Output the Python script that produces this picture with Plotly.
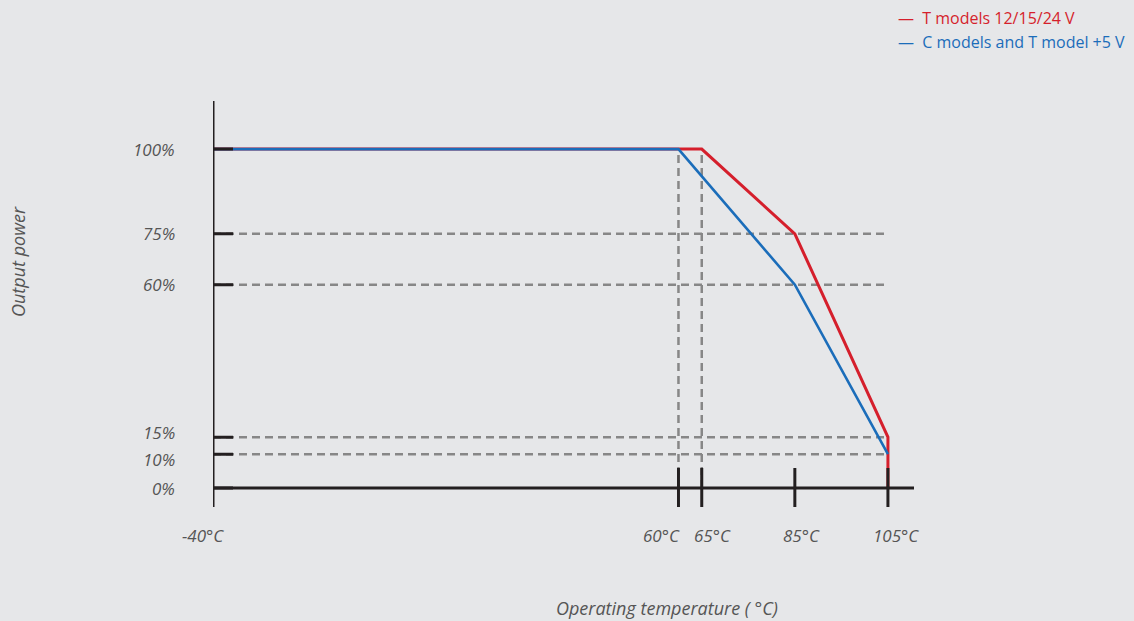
import plotly.graph_objects as go

# ---- data ----
x_tick_vals = [-40, 60, 65, 85, 105]
x_tick_text = ["-40°C", "60°C", "65°C", "85°C", "105°C"]
y_tick_vals = [0, 10, 15, 60, 75, 100]
y_tick_text = ["0%", "10%", "15%", "60%", "75%", "100%"]

t_models_temp = [-40, 60, 65, 85, 105, 105]
t_models_power = [100, 100, 100, 75, 15, 0]
c_models_temp = [-40, 60, 85, 105]
c_models_power = [100, 100, 60, 10]

ref_levels = [75, 60, 15, 10]
ref_temps = [60, 65]

series_names = ["T models 12/15/24 V", "C models and T model +5 V"]

RED = "#d51f2c"
BLUE = "#1b6dba"
GRAY = "#878787"
BLACK = "#231f20"
BG = "#e6e7e9"
TXT = "#555555"
FONT = "Open Sans"

X_MIN, X_MAX = -40, 110.6
Y_MIN, Y_MAX = -5.6, 114.2

fig = go.Figure()

fig.add_trace(go.Scatter(x=t_models_temp, y=t_models_power, mode="lines",
                         name=series_names[0], line=dict(color=RED, width=3),
                         showlegend=False))
fig.add_trace(go.Scatter(x=c_models_temp, y=c_models_power, mode="lines",
                         name=series_names[1], line=dict(color=BLUE, width=2.6),
                         showlegend=False))

shapes = []
for lv in ref_levels:
    shapes.append(dict(type="line", xref="x", yref="y", x0=x_tick_vals[0], x1=x_tick_vals[-1],
                       y0=lv, y1=lv, layer="below",
                       line=dict(color=GRAY, width=2.5, dash="8px,5px")))
for tv in ref_temps:
    shapes.append(dict(type="line", xref="x", yref="y", x0=tv, x1=tv,
                       y0=y_tick_vals[0], y1=y_tick_vals[-1], layer="below",
                       line=dict(color=GRAY, width=2.5, dash="8px,5px")))
shapes.append(dict(type="line", xref="x", yref="y", x0=X_MIN, x1=X_MAX, y0=0, y1=0,
                   layer="above", line=dict(color=BLACK, width=3)))
shapes.append(dict(type="line", xref="x", yref="y", x0=X_MIN, x1=X_MIN, y0=Y_MIN, y1=Y_MAX,
                   layer="above", line=dict(color=BLACK, width=3)))
for yv in y_tick_vals:
    shapes.append(dict(type="line", xref="x", yref="y", xsizemode="pixel", xanchor=x_tick_vals[0],
                       x0=-20, x1=20, y0=yv, y1=yv, layer="above",
                       line=dict(color=BLACK, width=3)))
for xv in x_tick_vals[1:]:
    shapes.append(dict(type="line", xref="x", yref="y", ysizemode="pixel", yanchor=0,
                       y0=-20, y1=20, x0=xv, x1=xv, layer="above",
                       line=dict(color=BLACK, width=3)))

tick_font = dict(family=FONT, size=17, color=TXT, style="italic")
annotations = []
y_shift = {10: -5, 15: 5}
for v, t in zip(y_tick_vals, y_tick_text):
    annotations.append(dict(text=t, xref="x", yref="y", x=x_tick_vals[0], y=v,
                            xanchor="right", yanchor="middle", xshift=-36,
                            yshift=y_shift.get(v, 0), showarrow=False, font=tick_font))
x_anchor = {-40: ("center", -10), 60: ("right", 4), 65: ("left", -10),
            85: ("center", 7), 105: ("center", 8)}
for v, t in zip(x_tick_vals, x_tick_text):
    anc, sh = x_anchor[v]
    annotations.append(dict(text=t, xref="x", yref="y", x=v, y=0,
                            xanchor=anc, yanchor="middle", xshift=sh, yshift=-47,
                            showarrow=False, font=tick_font))

plot_l, plot_r, plot_t, plot_b = 213, 914, 101, 507
pw, ph = plot_r - plot_l, plot_b - plot_t
def px_to_paper(px, py):
    return (px - plot_l) / pw, (plot_b - py) / ph

x0p, y0p = px_to_paper(18, 262)
annotations.append(dict(text="Output power", xref="paper", yref="paper", x=x0p, y=y0p,
                        textangle=-90, showarrow=False, xanchor="center", yanchor="middle",
                        font=dict(family=FONT, size=18, color=TXT, style="italic")))
x1p, y1p = px_to_paper(667, 608)
annotations.append(dict(text="Operating temperature ( °C)", xref="paper", yref="paper",
                        x=x1p, y=y1p, xanchor="center", yanchor="middle", showarrow=False,
                        font=dict(family=FONT, size=18, color=TXT, style="italic")))
for i, (name, col, py) in enumerate([(series_names[0], RED, 18), (series_names[1], BLUE, 42)]):
    lx, ly = px_to_paper(896, py)
    annotations.append(dict(text="—  " + name, xref="paper", yref="paper", x=lx, y=ly,
                            xanchor="left", yanchor="middle", showarrow=False,
                            font=dict(family=FONT, size=16, color=col)))

fig.update_layout(
    width=1134, height=621,
    margin=dict(l=plot_l, r=1134 - plot_r, t=plot_t, b=621 - plot_b, pad=0),
    paper_bgcolor=BG, plot_bgcolor=BG,
    shapes=shapes, annotations=annotations,
    xaxis=dict(range=[X_MIN, X_MAX], showgrid=False, zeroline=False, showline=False,
               showticklabels=False, ticks=""),
    yaxis=dict(range=[Y_MIN, Y_MAX], showgrid=False, zeroline=False, showline=False,
               showticklabels=False, ticks=""),
)

fig.write_html("out.html", config={"displayModeBar": False},
               post_script="document.body.style.margin='0';document.body.style.background='%s';" % BG)
